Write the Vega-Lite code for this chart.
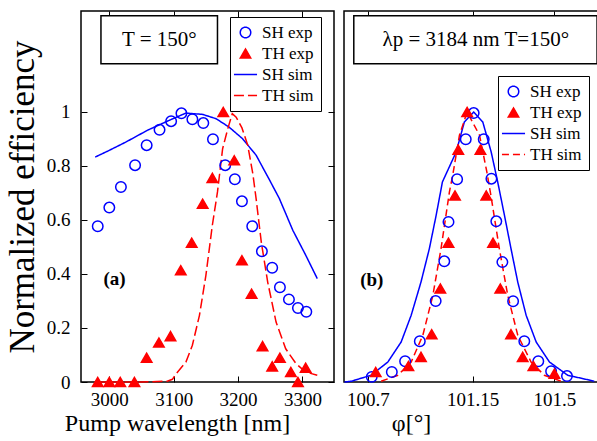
{
  "$schema": "https://vega.github.io/schema/vega-lite/v6.json",
  "padding": {"left": 4, "top": 9, "right": 0, "bottom": 0},
  "background": "white",
  "spacing": 4,
  "config": {
    "font": "Liberation Serif",
    "style": {"guide-label": {"font": "Liberation Serif"}, "guide-title": {"font": "Liberation Serif"}},
    "view": {"stroke": "black", "strokeWidth": 1.5},
    "axis": {"domain": false, "grid": false, "tickSize": -6, "tickColor": "black", "tickWidth": 1, "minExtent": 0, "labelFont": "Liberation Serif", "labelFontSize": 19, "labelColor": "black", "titleFont": "Liberation Serif", "titleFontWeight": "normal", "titleColor": "black"},
    "legend": {"orient": "none", "strokeColor": "black", "fillColor": "white", "padding": 7, "labelFont": "Liberation Serif", "labelFontSize": 17, "labelColor": "black", "symbolSize": 110, "symbolStrokeWidth": 1.5, "rowPadding": 3, "labelOffset": 8, "cornerRadius": 0}
  },
  "datasets": {
    "one": [{}],
    "a": [
      {"x": 2982, "y": 0.577, "s": "SH exp"}, {"x": 3000, "y": 0.646, "s": "SH exp"}, {"x": 3018, "y": 0.722, "s": "SH exp"}, {"x": 3040, "y": 0.803, "s": "SH exp"}, {"x": 3058, "y": 0.877, "s": "SH exp"}, {"x": 3078, "y": 0.934, "s": "SH exp"}, {"x": 3096, "y": 0.966, "s": "SH exp"}, {"x": 3112, "y": 0.995, "s": "SH exp"}, {"x": 3129, "y": 0.973, "s": "SH exp"}, {"x": 3146, "y": 0.959, "s": "SH exp"}, {"x": 3161, "y": 0.899, "s": "SH exp"}, {"x": 3180, "y": 0.803, "s": "SH exp"}, {"x": 3195, "y": 0.751, "s": "SH exp"}, {"x": 3206, "y": 0.669, "s": "SH exp"}, {"x": 3222, "y": 0.577, "s": "SH exp"}, {"x": 3237, "y": 0.484, "s": "SH exp"}, {"x": 3253, "y": 0.423, "s": "SH exp"}, {"x": 3265, "y": 0.351, "s": "SH exp"}, {"x": 3279, "y": 0.306, "s": "SH exp"}, {"x": 3293, "y": 0.274, "s": "SH exp"}, {"x": 3306, "y": 0.26, "s": "SH exp"},
      {"x": 2982, "y": 0, "s": "TH exp"}, {"x": 3000, "y": 0, "s": "TH exp"}, {"x": 3017, "y": 0, "s": "TH exp"}, {"x": 3039, "y": 0, "s": "TH exp"}, {"x": 3058, "y": 0.09, "s": "TH exp"}, {"x": 3077, "y": 0.146, "s": "TH exp"}, {"x": 3095, "y": 0.17, "s": "TH exp"}, {"x": 3111, "y": 0.414, "s": "TH exp"}, {"x": 3128, "y": 0.516, "s": "TH exp"}, {"x": 3145, "y": 0.66, "s": "TH exp"}, {"x": 3160, "y": 0.756, "s": "TH exp"}, {"x": 3177, "y": 1.0, "s": "TH exp"}, {"x": 3194, "y": 0.821, "s": "TH exp"}, {"x": 3206, "y": 0.451, "s": "TH exp"}, {"x": 3221, "y": 0.327, "s": "TH exp"}, {"x": 3238, "y": 0.133, "s": "TH exp"}, {"x": 3253, "y": 0.058, "s": "TH exp"}, {"x": 3265, "y": 0.09, "s": "TH exp"}, {"x": 3282, "y": 0.037, "s": "TH exp"}, {"x": 3293, "y": 0, "s": "TH exp"}, {"x": 3305, "y": 0.053, "s": "TH exp"},
      {"x": 2978, "y": 0.833, "s": "SH sim"}, {"x": 3000, "y": 0.858, "s": "SH sim"}, {"x": 3026, "y": 0.889, "s": "SH sim"}, {"x": 3059, "y": 0.932, "s": "SH sim"}, {"x": 3093, "y": 0.969, "s": "SH sim"}, {"x": 3119, "y": 0.996, "s": "SH sim"}, {"x": 3145, "y": 0.991, "s": "SH sim"}, {"x": 3166, "y": 0.975, "s": "SH sim"}, {"x": 3186, "y": 0.944, "s": "SH sim"}, {"x": 3207, "y": 0.901, "s": "SH sim"}, {"x": 3228, "y": 0.84, "s": "SH sim"}, {"x": 3248, "y": 0.752, "s": "SH sim"}, {"x": 3264, "y": 0.68, "s": "SH sim"}, {"x": 3285, "y": 0.562, "s": "SH sim"}, {"x": 3305, "y": 0.47, "s": "SH sim"}, {"x": 3323, "y": 0.383, "s": "SH sim"},
      {"x": 2980, "y": 0, "s": "TH sim"}, {"x": 3050, "y": 0, "s": "TH sim"}, {"x": 3090, "y": 0.003, "s": "TH sim"}, {"x": 3098, "y": 0.01, "s": "TH sim"}, {"x": 3104, "y": 0.031, "s": "TH sim"}, {"x": 3119, "y": 0.074, "s": "TH sim"}, {"x": 3129, "y": 0.136, "s": "TH sim"}, {"x": 3140, "y": 0.247, "s": "TH sim"}, {"x": 3150, "y": 0.395, "s": "TH sim"}, {"x": 3160, "y": 0.58, "s": "TH sim"}, {"x": 3168, "y": 0.704, "s": "TH sim"}, {"x": 3176, "y": 0.864, "s": "TH sim"}, {"x": 3184, "y": 0.938, "s": "TH sim"}, {"x": 3191, "y": 0.994, "s": "TH sim"}, {"x": 3197, "y": 0.981, "s": "TH sim"}, {"x": 3206, "y": 0.941, "s": "TH sim"}, {"x": 3215, "y": 0.877, "s": "TH sim"}, {"x": 3223, "y": 0.77, "s": "TH sim"}, {"x": 3228, "y": 0.679, "s": "TH sim"}, {"x": 3236, "y": 0.519, "s": "TH sim"}, {"x": 3246, "y": 0.37, "s": "TH sim"}, {"x": 3259, "y": 0.222, "s": "TH sim"}, {"x": 3274, "y": 0.123, "s": "TH sim"}, {"x": 3290, "y": 0.068, "s": "TH sim"}, {"x": 3305, "y": 0.037, "s": "TH sim"}, {"x": 3323, "y": 0.025, "s": "TH sim"}
    ],
    "b": [
      {"x": 100.717, "y": 0.019, "s": "SH exp"}, {"x": 100.803, "y": 0.037, "s": "SH exp"}, {"x": 100.86, "y": 0.077, "s": "SH exp"}, {"x": 100.923, "y": 0.151, "s": "SH exp"}, {"x": 100.991, "y": 0.3, "s": "SH exp"}, {"x": 101.028, "y": 0.447, "s": "SH exp"}, {"x": 101.046, "y": 0.593, "s": "SH exp"}, {"x": 101.083, "y": 0.751, "s": "SH exp"}, {"x": 101.12, "y": 0.899, "s": "SH exp"}, {"x": 101.154, "y": 0.996, "s": "SH exp"}, {"x": 101.197, "y": 0.899, "s": "SH exp"}, {"x": 101.23, "y": 0.753, "s": "SH exp"}, {"x": 101.251, "y": 0.595, "s": "SH exp"}, {"x": 101.277, "y": 0.444, "s": "SH exp"}, {"x": 101.323, "y": 0.299, "s": "SH exp"}, {"x": 101.371, "y": 0.151, "s": "SH exp"}, {"x": 101.431, "y": 0.077, "s": "SH exp"}, {"x": 101.486, "y": 0.04, "s": "SH exp"}, {"x": 101.554, "y": 0.022, "s": "SH exp"},
      {"x": 100.734, "y": 0.037, "s": "TH exp"}, {"x": 100.874, "y": 0.059, "s": "TH exp"}, {"x": 100.928, "y": 0.093, "s": "TH exp"}, {"x": 100.974, "y": 0.177, "s": "TH exp"}, {"x": 101.011, "y": 0.346, "s": "TH exp"}, {"x": 101.046, "y": 0.516, "s": "TH exp"}, {"x": 101.074, "y": 0.691, "s": "TH exp"}, {"x": 101.088, "y": 0.86, "s": "TH exp"}, {"x": 101.126, "y": 1.0, "s": "TH exp"}, {"x": 101.183, "y": 0.86, "s": "TH exp"}, {"x": 101.208, "y": 0.691, "s": "TH exp"}, {"x": 101.237, "y": 0.516, "s": "TH exp"}, {"x": 101.268, "y": 0.346, "s": "TH exp"}, {"x": 101.314, "y": 0.177, "s": "TH exp"}, {"x": 101.364, "y": 0.093, "s": "TH exp"}, {"x": 101.41, "y": 0.059, "s": "TH exp"}, {"x": 101.5, "y": 0.031, "s": "TH exp"},
      {"x": 100.6, "y": 0, "s": "SH sim"}, {"x": 100.63, "y": 0.003, "s": "SH sim"}, {"x": 100.714, "y": 0.025, "s": "SH sim"}, {"x": 100.786, "y": 0.074, "s": "SH sim"}, {"x": 100.843, "y": 0.148, "s": "SH sim"}, {"x": 100.886, "y": 0.247, "s": "SH sim"}, {"x": 100.928, "y": 0.37, "s": "SH sim"}, {"x": 100.964, "y": 0.494, "s": "SH sim"}, {"x": 100.993, "y": 0.617, "s": "SH sim"}, {"x": 101.02, "y": 0.741, "s": "SH sim"}, {"x": 101.079, "y": 0.852, "s": "SH sim"}, {"x": 101.114, "y": 0.963, "s": "SH sim"}, {"x": 101.154, "y": 1.0, "s": "SH sim"}, {"x": 101.193, "y": 0.963, "s": "SH sim"}, {"x": 101.229, "y": 0.852, "s": "SH sim"}, {"x": 101.257, "y": 0.741, "s": "SH sim"}, {"x": 101.286, "y": 0.617, "s": "SH sim"}, {"x": 101.314, "y": 0.494, "s": "SH sim"}, {"x": 101.343, "y": 0.37, "s": "SH sim"}, {"x": 101.379, "y": 0.247, "s": "SH sim"}, {"x": 101.422, "y": 0.148, "s": "SH sim"}, {"x": 101.479, "y": 0.074, "s": "SH sim"}, {"x": 101.557, "y": 0.025, "s": "SH sim"}, {"x": 101.671, "y": 0.003, "s": "SH sim"},
      {"x": 100.757, "y": 0.003, "s": "TH sim"}, {"x": 100.829, "y": 0.025, "s": "TH sim"}, {"x": 100.886, "y": 0.074, "s": "TH sim"}, {"x": 100.936, "y": 0.173, "s": "TH sim"}, {"x": 100.979, "y": 0.321, "s": "TH sim"}, {"x": 101.014, "y": 0.494, "s": "TH sim"}, {"x": 101.05, "y": 0.704, "s": "TH sim"}, {"x": 101.064, "y": 0.765, "s": "TH sim"}, {"x": 101.093, "y": 0.914, "s": "TH sim"}, {"x": 101.126, "y": 1.0, "s": "TH sim"}, {"x": 101.179, "y": 0.914, "s": "TH sim"}, {"x": 101.21, "y": 0.78, "s": "TH sim"}, {"x": 101.228, "y": 0.69, "s": "TH sim"}, {"x": 101.264, "y": 0.494, "s": "TH sim"}, {"x": 101.3, "y": 0.321, "s": "TH sim"}, {"x": 101.343, "y": 0.173, "s": "TH sim"}, {"x": 101.4, "y": 0.074, "s": "TH sim"}, {"x": 101.457, "y": 0.025, "s": "TH sim"}, {"x": 101.529, "y": 0.003, "s": "TH sim"}
    ]
  },
  "hconcat": [
    {
      "width": 253,
      "height": 371,
      "data": {"name": "a"},
      "layer": [
        {
          "data": {"name": "one"},
          "mark": {"type": "rect", "fill": "white", "stroke": "black", "strokeWidth": 1.5},
          "encoding": {
            "x": {"datum": 2987, "type": "quantitative", "scale": {"domain": [2956, 3349], "nice": false, "zero": false}, "axis": {"title": "Pump wavelength [nm]", "values": [3000, 3100, 3200, 3300], "format": "d", "labelFont": "Liberation Serif", "titleFont": "Liberation Serif", "titleFontSize": 24, "labelPadding": 14, "titlePadding": 2, "titleX": 96}},
            "x2": {"datum": 3168},
            "y": {"datum": 1.356, "type": "quantitative", "scale": {"domain": [0, 1.374], "nice": false}, "axis": {"title": "Normalized efficiency", "values": [0, 0.2, 0.4, 0.6, 0.8, 1], "format": "~g", "labelFont": "Liberation Serif", "titleFont": "Liberation Serif", "titleFontSize": 35, "labelPadding": 17, "titlePadding": 6}},
            "y2": {"datum": 1.179}
          }
        },
        {
          "data": {"name": "one"},
          "mark": {"type": "text", "fontSize": 21, "font": "Liberation Serif", "align": "center", "baseline": "middle", "fill": "black"},
          "encoding": {
            "x": {"datum": 3077.6, "type": "quantitative", "axis": {"orient": "top", "labels": false, "title": null, "values": [3000, 3100, 3200, 3300], "minExtent": 0}},
            "y": {"datum": 1.267, "type": "quantitative", "axis": {"orient": "right", "labels": false, "title": null, "values": [0, 0.2, 0.4, 0.6, 0.8, 1], "minExtent": 0, "maxExtent": 0}},
            "text": {"value": "T = 150°"}
          }
        },
        {
          "data": {"name": "one"},
          "mark": {"type": "text", "fontSize": 19, "fontWeight": "bold", "font": "Liberation Serif", "align": "center", "baseline": "middle", "fill": "black"},
          "encoding": {
            "x": {"datum": 3008, "type": "quantitative", "axis": null},
            "y": {"datum": 0.381, "type": "quantitative", "axis": null},
            "text": {"value": "(a)"}
          }
        },
        {
          "transform": [{"filter": "datum.s == 'SH sim' || datum.s == 'TH sim'"}],
          "mark": {"type": "line", "strokeWidth": 1.5},
          "encoding": {
            "x": {"field": "x", "type": "quantitative", "axis": null},
            "y": {"field": "y", "type": "quantitative", "axis": null},
            "stroke": {"field": "s", "type": "nominal", "scale": {"domain": ["SH exp", "TH exp", "SH sim", "TH sim"], "range": ["#0000ff", "#ff0000", "#0000ff", "#ff0000"]}, "legend": {"title": null, "legendX": 149, "legendY": 6}},
            "strokeDash": {"field": "s", "type": "nominal", "scale": {"domain": ["SH exp", "TH exp", "SH sim", "TH sim"], "range": [[1, 0], [1, 0], [1, 0], [10, 4]]}, "legend": {"title": null, "legendX": 149, "legendY": 6}}
          }
        },
        {
          "transform": [{"filter": "datum.s == 'SH exp' || datum.s == 'TH exp'"}],
          "mark": {"type": "point", "strokeWidth": 1.5, "size": 110, "opacity": 1},
          "encoding": {
            "x": {"field": "x", "type": "quantitative", "axis": null},
            "y": {"field": "y", "type": "quantitative", "axis": null},
            "stroke": {"field": "s", "type": "nominal", "scale": {"domain": ["SH exp", "TH exp", "SH sim", "TH sim"], "range": ["#0000ff", "#ff0000", "#0000ff", "#ff0000"]}, "legend": {"title": null, "legendX": 149, "legendY": 6}},
            "fill": {"field": "s", "type": "nominal", "scale": {"domain": ["SH exp", "TH exp", "SH sim", "TH sim"], "range": ["transparent", "#ff0000", "transparent", "transparent"]}, "legend": {"title": null, "legendX": 149, "legendY": 6}},
            "shape": {"field": "s", "type": "nominal", "scale": {"domain": ["SH exp", "TH exp", "SH sim", "TH sim"], "range": ["circle", "triangle-up", "M-2.2,0L2.2,0", "M-2.2,0L2.2,0"]}, "legend": {"title": null, "legendX": 149, "legendY": 6}}
          }
        }
      ],
      "resolve": {"axis": {"x": "independent", "y": "independent"}}
    },
    {
      "width": 254,
      "height": 371,
      "data": {"name": "b"},
      "layer": [
        {
          "data": {"name": "one"},
          "mark": {"type": "rect", "fill": "white", "stroke": "black", "strokeWidth": 1.5},
          "encoding": {
            "x": {"datum": 100.64, "type": "quantitative", "scale": {"domain": [100.598, 101.687], "nice": false, "zero": false}, "axis": {"title": "φ[°]", "values": [100.7, 101.15, 101.5], "format": ".2~f", "labelFont": "Liberation Serif", "titleFont": "Liberation Serif", "titleFontSize": 24, "labelPadding": 14, "titlePadding": 2, "titleX": 67}},
            "x2": {"datum": 101.683},
            "y": {"datum": 1.356, "type": "quantitative", "scale": {"domain": [0, 1.374], "nice": false}, "axis": null},
            "y2": {"datum": 1.179}
          }
        },
        {
          "data": {"name": "one"},
          "mark": {"type": "text", "fontSize": 21, "font": "Liberation Serif", "align": "center", "baseline": "middle", "fill": "black"},
          "encoding": {
            "x": {"datum": 101.163, "type": "quantitative", "axis": {"orient": "top", "labels": false, "title": null, "values": [100.7, 101.15, 101.5], "minExtent": 0}},
            "y": {"datum": 1.267, "type": "quantitative", "axis": null},
            "text": {"value": "λp = 3184 nm T=150°"}
          }
        },
        {
          "data": {"name": "one"},
          "mark": {"type": "text", "fontSize": 19, "fontWeight": "bold", "font": "Liberation Serif", "align": "center", "baseline": "middle", "fill": "black"},
          "encoding": {
            "x": {"datum": 100.717, "type": "quantitative", "axis": null},
            "y": {"datum": 0.378, "type": "quantitative", "axis": null},
            "text": {"value": "(b)"}
          }
        },
        {
          "transform": [{"filter": "datum.s == 'SH sim' || datum.s == 'TH sim'"}],
          "mark": {"type": "line", "strokeWidth": 1.5},
          "encoding": {
            "x": {"field": "x", "type": "quantitative", "axis": null},
            "y": {"field": "y", "type": "quantitative", "axis": null},
            "stroke": {"field": "s", "type": "nominal", "scale": {"domain": ["SH exp", "TH exp", "SH sim", "TH sim"], "range": ["#0000ff", "#ff0000", "#0000ff", "#ff0000"]}, "legend": {"title": null, "legendX": 154, "legendY": 65}},
            "strokeDash": {"field": "s", "type": "nominal", "scale": {"domain": ["SH exp", "TH exp", "SH sim", "TH sim"], "range": [[1, 0], [1, 0], [1, 0], [7, 4]]}, "legend": {"title": null, "legendX": 154, "legendY": 65}}
          }
        },
        {
          "transform": [{"filter": "datum.s == 'SH exp' || datum.s == 'TH exp'"}],
          "mark": {"type": "point", "strokeWidth": 1.5, "size": 110, "opacity": 1},
          "encoding": {
            "x": {"field": "x", "type": "quantitative", "axis": null},
            "y": {"field": "y", "type": "quantitative", "axis": null},
            "stroke": {"field": "s", "type": "nominal", "scale": {"domain": ["SH exp", "TH exp", "SH sim", "TH sim"], "range": ["#0000ff", "#ff0000", "#0000ff", "#ff0000"]}, "legend": {"title": null, "legendX": 154, "legendY": 65}},
            "fill": {"field": "s", "type": "nominal", "scale": {"domain": ["SH exp", "TH exp", "SH sim", "TH sim"], "range": ["transparent", "#ff0000", "transparent", "transparent"]}, "legend": {"title": null, "legendX": 154, "legendY": 65}},
            "shape": {"field": "s", "type": "nominal", "scale": {"domain": ["SH exp", "TH exp", "SH sim", "TH sim"], "range": ["circle", "triangle-up", "M-2.2,0L2.2,0", "M-2.2,0L2.2,0"]}, "legend": {"title": null, "legendX": 154, "legendY": 65}}
          }
        }
      ],
      "resolve": {"axis": {"x": "independent", "y": "independent"}}
    }
  ],
  "resolve": {
    "scale": {"x": "independent", "y": "independent", "stroke": "independent", "fill": "independent", "shape": "independent", "strokeDash": "independent"},
    "legend": {"stroke": "independent", "fill": "independent", "shape": "independent", "strokeDash": "independent"}
  }
}
